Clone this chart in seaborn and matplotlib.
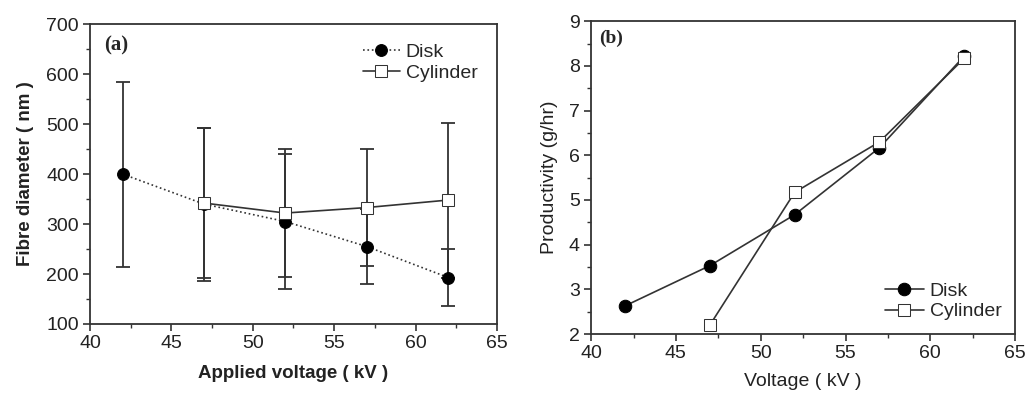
import matplotlib
matplotlib.use("Agg")
import matplotlib.pyplot as plt
import seaborn as sns
import pandas as pd
from matplotlib.ticker import MultipleLocator

# Panel (a): fibre diameter
volt_disk = [42, 47, 52, 57, 62]
diam_disk = [400, 340, 305, 255, 193]
err_disk = [185, 153, 135, 75, 58]
volt_cyl = [47, 52, 57, 62]
diam_cyl = [342, 322, 333, 348]
err_cyl = [150, 128, 117, 155]

# Panel (b): productivity
prod_disk = [2.63, 3.53, 4.67, 6.17, 8.22]
prod_cyl = [2.2, 5.17, 6.3, 8.17]

sns.set_style("ticks")
plt.rcParams['font.family'] = ['Liberation Sans', 'DejaVu Sans']
plt.rcParams['xtick.direction'] = 'out'
plt.rcParams['ytick.direction'] = 'out'

col = '#333333'
fig = plt.figure(figsize=(10.28, 3.93), dpi=100)
ax1 = fig.add_axes([0.0875, 0.1756, 0.396, 0.763])
ax2 = fig.add_axes([0.575, 0.150, 0.4125, 0.796])

df_d = pd.DataFrame({'v': volt_disk, 'y': diam_disk})
df_c = pd.DataFrame({'v': volt_cyl, 'y': diam_cyl})

ax1.errorbar(volt_disk, diam_disk, yerr=err_disk, fmt='none', ecolor=col,
             elinewidth=1.3, capsize=5, capthick=1.3, zorder=2)
ax1.errorbar(volt_cyl, diam_cyl, yerr=err_cyl, fmt='none', ecolor=col,
             elinewidth=1.3, capsize=5, capthick=1.3, zorder=2)
sns.lineplot(data=df_d, x='v', y='y', ax=ax1, color=col, linestyle=':', lw=1.2,
             marker='o', markersize=8.5, markerfacecolor='black', markeredgecolor='black',
             label='Disk', zorder=3)
sns.lineplot(data=df_c, x='v', y='y', ax=ax1, color=col, linestyle='-', lw=1.2,
             marker='s', markersize=8, markerfacecolor='white', markeredgecolor=col,
             label='Cylinder', zorder=4)
ax1.set_xlim(40, 65)
ax1.set_ylim(100, 700)
ax1.xaxis.set_major_locator(MultipleLocator(5))
ax1.xaxis.set_minor_locator(MultipleLocator(2.5))
ax1.yaxis.set_major_locator(MultipleLocator(100))
ax1.yaxis.set_minor_locator(MultipleLocator(50))
ax1.set_xlabel('Applied voltage ( kV )', fontsize=13.5, fontweight='bold',
               color='#222222', labelpad=9)
ax1.set_ylabel('Fibre diameter ( nm )', fontsize=13.5, fontweight='bold',
               color='#222222', labelpad=9)
ax1.text(0.035, 0.93, '(a)', transform=ax1.transAxes, fontsize=15, fontweight='bold',
         family=['Liberation Serif', 'DejaVu Serif'], va='center')
ax1.legend(loc='upper right', frameon=False, fontsize=14, handlelength=1.9,
           handletextpad=0.3, borderaxespad=0.6, labelspacing=0.15)

df_pd = pd.DataFrame({'v': volt_disk, 'y': prod_disk})
df_pc = pd.DataFrame({'v': volt_cyl, 'y': prod_cyl})
sns.lineplot(data=df_pd, x='v', y='y', ax=ax2, color=col, lw=1.2,
             marker='o', markersize=9, markerfacecolor='black', markeredgecolor='black',
             label='Disk', zorder=3)
sns.lineplot(data=df_pc, x='v', y='y', ax=ax2, color=col, lw=1.2,
             marker='s', markersize=8, markerfacecolor='white', markeredgecolor=col,
             label='Cylinder', zorder=4)
ax2.set_xlim(40, 65)
ax2.set_ylim(2, 9)
ax2.xaxis.set_major_locator(MultipleLocator(5))
ax2.xaxis.set_minor_locator(MultipleLocator(2.5))
ax2.yaxis.set_major_locator(MultipleLocator(1))
ax2.yaxis.set_minor_locator(MultipleLocator(0.5))
ax2.set_xlabel('Voltage ( kV )', fontsize=14, color='#222222', labelpad=8)
ax2.set_ylabel('Productivity (g/hr)', fontsize=14, color='#222222', labelpad=8)
ax2.text(0.02, 0.945, '(b)', transform=ax2.transAxes, fontsize=14, fontweight='bold',
         family=['Liberation Serif', 'DejaVu Serif'], va='center')
ax2.legend(loc='lower right', frameon=False, fontsize=14, handlelength=2.0,
           handletextpad=0.3, borderaxespad=0.3, labelspacing=0.15)

for ax in (ax1, ax2):
    for s in ax.spines.values():
        s.set_color(col)
        s.set_linewidth(1.3)
    ax.tick_params(which='major', length=5, width=1.2, colors=col, labelsize=14,
                   labelcolor='#222222', pad=3)
    ax.tick_params(which='minor', length=3, width=1.0, colors=col)

fig.savefig('out.png', dpi=100)
